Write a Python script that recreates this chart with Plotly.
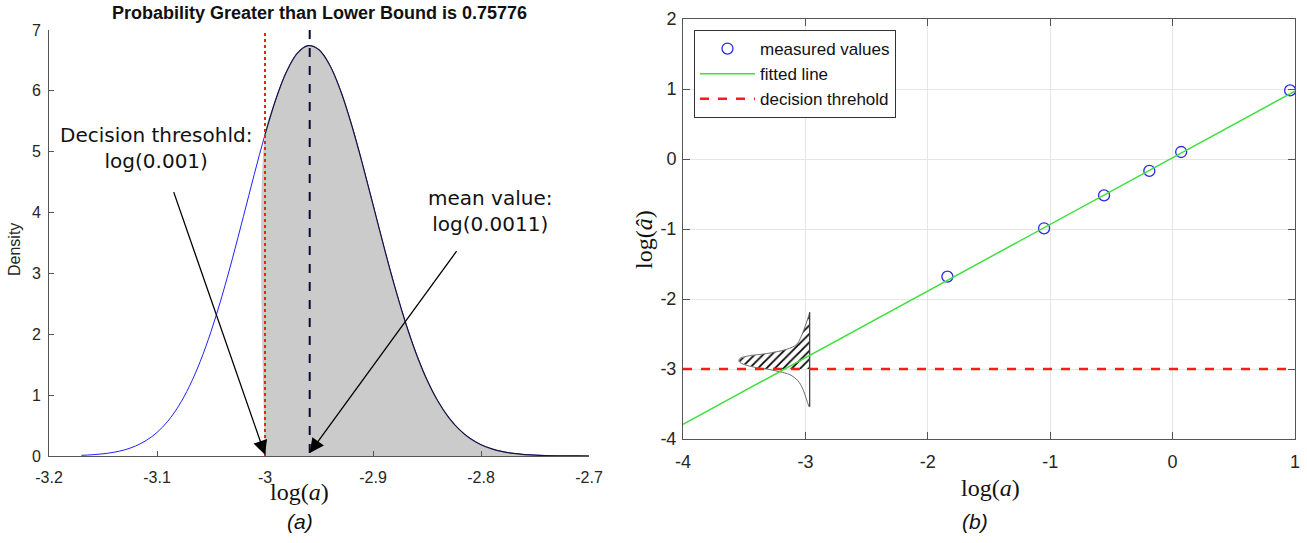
import plotly.graph_objects as go

W, H = 1307, 543

# ---------------- panel (a): density of log(a) ----------------
log_a = [-3.17, -3.16, -3.15, -3.14, -3.13, -3.12, -3.11, -3.10, -3.09, -3.08,
         -3.07, -3.06, -3.05, -3.04, -3.03, -3.02, -3.01, -3.00, -2.99, -2.98,
         -2.97, -2.96, -2.95, -2.94, -2.93, -2.92, -2.91, -2.90, -2.89, -2.88,
         -2.87, -2.86, -2.85, -2.84, -2.83, -2.82, -2.81, -2.80, -2.79, -2.78,
         -2.77, -2.76, -2.75, -2.74, -2.73, -2.72, -2.71, -2.70]
density = [0.011, 0.020, 0.036, 0.061, 0.101, 0.163, 0.255, 0.387, 0.572, 0.821,
           1.145, 1.552, 2.044, 2.616, 3.255, 3.935, 4.624, 5.280, 5.859, 6.317,
           6.621, 6.743, 6.674, 6.420, 6.001, 5.451, 4.813, 4.129, 3.443, 2.790,
           2.197, 1.681, 1.250, 0.904, 0.635, 0.433, 0.287, 0.185, 0.116, 0.071,
           0.042, 0.024, 0.013, 0.007, 0.004, 0.002, 0.001, 0.000]

threshold_log = -3.0        # log(0.001)
mean_log = -2.9586          # log(0.0011)
prob_above = 0.75776

a_xticks = [-3.2, -3.1, -3.0, -2.9, -2.8, -2.7]
a_xticklabels = ["-3.2", "-3.1", "-3", "-2.9", "-2.8", "-2.7"]
a_yticks = [0, 1, 2, 3, 4, 5, 6, 7]

# ---------------- panel (b): log(a_hat) vs log(a) ----------------
meas_x = [-1.84, -1.05, -0.56, -0.19, 0.07, 0.96]
meas_y = [-1.68, -0.99, -0.52, -0.17, 0.10, 0.98]
fit_x = [-4.0, 1.0]
fit_y = [-3.79, 0.97]
decision_y = -3.0

# sideways density drawn at log(a) = -3
pdf_x = [-2.965, -2.992, -3.033, -3.073, -3.155, -3.318, -3.455, -3.536, -3.542,
         -3.509, -3.400, -3.318, -3.210, -3.128, -3.060, -3.020, -2.992, -2.970]
pdf_y = [-2.19, -2.34, -2.53, -2.65, -2.72, -2.78, -2.81, -2.85, -2.89,
         -2.93, -2.98, -3.00, -3.04, -3.08, -3.17, -3.29, -3.43, -3.54]
pdf_base_x = -2.965

b_xticks = [-4, -3, -2, -1, 0, 1]
b_yticks = [-4, -3, -2, -1, 0, 1, 2]

SANS = "Liberation Sans, Arial, sans-serif"
SERIF = "Liberation Serif, Times New Roman, serif"
TXT = "#262626"

fig = go.Figure()

# full density curve
fig.add_trace(go.Scatter(x=log_a, y=density, mode="lines", line=dict(color="#2020ff", width=1),
                         line_shape="spline", showlegend=False, xaxis="x", yaxis="y"))

# shaded part above the lower bound
sx = [x for x in log_a if x >= threshold_log]
sy = [d for x, d in zip(log_a, density) if x >= threshold_log]
fig.add_trace(go.Scatter(x=[sx[0]] + sx + [sx[-1]], y=[0] + sy + [0], mode="lines",
                         fill="toself", fillcolor="#cbcbcb", line=dict(width=0),
                         line_shape="spline", showlegend=False, xaxis="x", yaxis="y"))
fig.add_trace(go.Scatter(x=sx, y=sy, mode="lines", line=dict(color="#14143c", width=1.2),
                         line_shape="spline", showlegend=False, xaxis="x", yaxis="y"))

# lower bound and mean markers
fig.add_trace(go.Scatter(x=[threshold_log, threshold_log], y=[0, 7], mode="lines",
                         line=dict(color="#ff1a1a", width=2, dash="dot"),
                         showlegend=False, xaxis="x", yaxis="y"))
fig.add_trace(go.Scatter(x=[mean_log, mean_log], y=[0.05, 7], mode="lines",
                         line=dict(color="#0c0c30", width=2, dash="dash"),
                         showlegend=False, xaxis="x", yaxis="y"))

# ---- panel (b) traces ----
hx = [x for x, y in zip(pdf_x, pdf_y) if y >= decision_y]
hy = [y for y in pdf_y if y >= decision_y]
fig.add_trace(go.Scatter(x=hx + [pdf_base_x], y=hy + [decision_y], mode="lines",
                         fill="toself", fillcolor="rgba(0,0,0,0)", line=dict(width=0),
                         fillpattern=dict(shape="/", fgcolor="#000000", bgcolor="white",
                                          size=6, solidity=0.28),
                         showlegend=False, xaxis="x2", yaxis="y2"))
fig.add_trace(go.Scatter(x=pdf_x, y=pdf_y, mode="lines", line=dict(color="#707070", width=1),
                         line_shape="spline", showlegend=False, xaxis="x2", yaxis="y2"))
fig.add_trace(go.Scatter(x=[pdf_base_x, pdf_base_x], y=[pdf_y[-1], pdf_y[0]], mode="lines",
                         line=dict(color="#333333", width=1.2),
                         showlegend=False, xaxis="x2", yaxis="y2"))

fig.add_trace(go.Scatter(x=meas_x, y=meas_y, mode="markers", name="measured values",
                         marker=dict(symbol="circle-open", size=11, color="#2a2ae6",
                                     line=dict(width=1.3, color="#2a2ae6")),
                         xaxis="x2", yaxis="y2"))
fig.add_trace(go.Scatter(x=fit_x, y=fit_y, mode="lines", name="fitted line",
                         line=dict(color="#3ee03e", width=1.5), xaxis="x2", yaxis="y2"))
fig.add_trace(go.Scatter(x=[-4, 1], y=[decision_y, decision_y], mode="lines",
                         name="decision threhold",
                         line=dict(color="#ff1a1a", width=2.5, dash="dash"),
                         xaxis="x2", yaxis="y2"))

def px_x(p):
    return p / W

def px_y(p):
    return 1 - p / H

axis_common = dict(showline=True, linecolor="#555555", linewidth=1, ticks="inside",
                   ticklen=5, tickcolor="#555555", tickfont=dict(family=SANS, size=16, color=TXT),
                   zeroline=False, showgrid=False, fixedrange=True, automargin=False)

fig.update_layout(
    template="none",
    width=W, height=H, margin=dict(l=0, r=0, t=0, b=0, pad=0),
    paper_bgcolor="white", plot_bgcolor="white",
    xaxis=dict(axis_common, domain=[px_x(49), px_x(589)], range=[-3.2, -2.7],
               tickvals=a_xticks, ticktext=a_xticklabels, anchor="y",
               ticklabelstandoff=7),
    yaxis=dict(axis_common, domain=[px_y(456), px_y(30)], range=[0, 7],
               tickvals=a_yticks, anchor="x", ticklabelstandoff=4),
    xaxis2=dict(axis_common, domain=[px_x(683), px_x(1295)], range=[-4, 1],
                tickvals=b_xticks, ticktext=[str(v) for v in b_xticks], anchor="y2",
                mirror="ticks", showgrid=True, gridcolor="#e6e6e6", ticklen=7,
                ticklabelstandoff=6, tickfont=dict(family=SANS, size=18, color=TXT)),
    yaxis2=dict(axis_common, domain=[px_y(439), px_y(19)], range=[-4, 2],
                tickvals=b_yticks, ticktext=[str(v) for v in b_yticks], anchor="x2",
                mirror="ticks", showgrid=True, gridcolor="#e6e6e6", ticklen=7,
                ticklabelstandoff=2, tickfont=dict(family=SANS, size=18, color=TXT)),
    legend=dict(x=px_x(694), y=px_y(30), xanchor="left", yanchor="top",
                bgcolor="white", bordercolor="#333333", borderwidth=1, itemwidth=55,
                font=dict(family=SANS, size=17, color="#111111"), tracegroupgap=0),
    showlegend=True,
)

def label(text, x, y, family, size, angle=0, color="#111111"):
    return dict(text=text, x=px_x(x), y=px_y(y), xref="paper", yref="paper",
                xanchor="center", yanchor="middle", showarrow=False, textangle=angle,
                font=dict(family=family, size=size, color=color))

annotations = [
    label("<b>Probability Greater than Lower Bound is %.5f</b>" % prob_above, 319, 13, SANS, 18),
    label("Density", 15, 250, SANS, 16, angle=-90, color=TXT),
    label("log(<i>a</i>)", 299, 492, SERIF, 24),
    label("<i>(a)</i>", 300, 521, SANS, 21),
    label("log(<i>a</i>)", 990, 488, SERIF, 24),
    label("log(<i>â</i>)", 644, 240, SERIF, 24, angle=-90),
    label("<i>(b)</i>", 975, 521, SANS, 21),
    dict(text="Decision thresohld:<br>log(0.001)", x=-3.101, y=5.06, xref="x", yref="y",
         xanchor="center", yanchor="middle", showarrow=False,
         font=dict(family="DejaVu Sans", size=20, color="#111111")),
    dict(text="mean value:<br>log(0.0011)", x=-2.7917, y=4.03, xref="x", yref="y",
         xanchor="center", yanchor="middle", showarrow=False,
         font=dict(family="DejaVu Sans", size=20, color="#111111")),
    dict(text="", x=threshold_log, y=0.02, ax=-3.085, ay=4.36, xref="x", yref="y",
         axref="x", ayref="y", showarrow=True, arrowhead=2, arrowsize=2.2,
         arrowwidth=1.3, arrowcolor="black"),
    dict(text="", x=mean_log, y=0.05, ax=-2.8216, ay=3.39, xref="x", yref="y",
         axref="x", ayref="y", showarrow=True, arrowhead=2, arrowsize=2.2,
         arrowwidth=1.3, arrowcolor="black"),
]
fig.update_layout(annotations=annotations)

fig.write_html("out.html")
